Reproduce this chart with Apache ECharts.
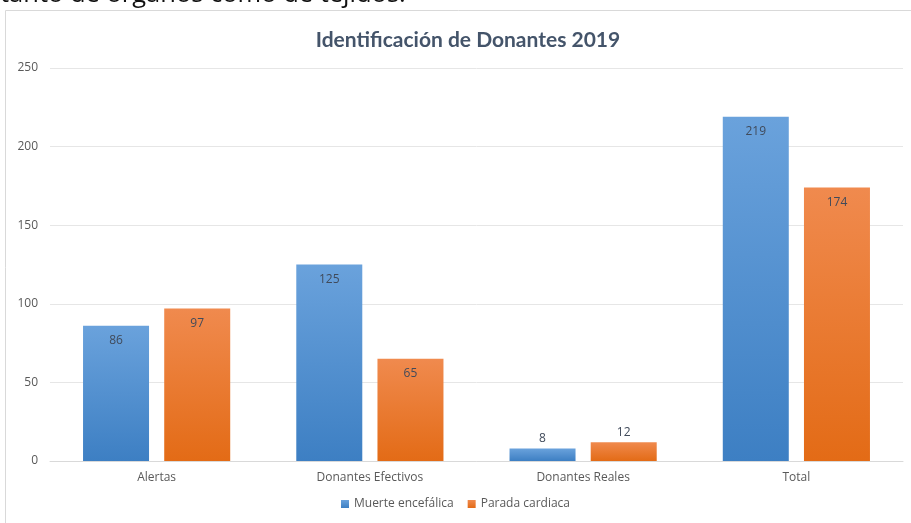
<!DOCTYPE html>
<html>
<head>
<meta charset="utf-8">
<script src="https://cdn.jsdelivr.net/npm/echarts@6/dist/echarts.min.js"></script>
<style>
  html, body { margin: 0; padding: 0; background: #fff; }
  #chart { width: 911px; height: 523px; }
</style>
</head>
<body>
<div id="chart"></div>
<script>
const categories = ['Alertas', 'Donantes Efectivos', 'Donantes Reales', 'Total'];
const muerteEncefalica = [86, 125, 8, 219];
const paradaCardiaca = [97, 65, 12, 174];
const yTicks = { min: 0, max: 250, interval: 50 };

const chart = echarts.init(document.getElementById('chart'));

function grad(top, bottom) {
  return new echarts.graphic.LinearGradient(0, 0, 0, 1, [
    { offset: 0, color: top },
    { offset: 1, color: bottom }
  ]);
}

const labelStyle = {
  show: true,
  position: 'insideTop',
  distance: 9,
  color: '#404a5a',
  fontSize: 12,
  fontFamily: 'Open Sans'
};

// short bars get their label above the bar, as in the original
function withLabels(values) {
  return values.map(v => v < 20
    ? { value: v, label: { position: 'top', distance: 4 } }
    : v);
}

chart.setOption({
  animation: false,
  graphic: [
    {
      // leftover line of page text, mostly cut off at the top edge
      type: 'text',
      x: 0,
      y: -5,
      style: {
        text: 'tanto de órganos como de tejidos.',
        fontSize: 25.5,
        fontFamily: 'Open Sans',
        fill: '#111',
        verticalAlign: 'middle'
      }
    },
    {
      type: 'rect',
      shape: { x: 5.5, y: 10.5, width: 1000, height: 600 },
      style: { fill: 'none', stroke: '#d9d9d9', lineWidth: 1 }
    }
  ],
  title: {
    text: 'Identificación de Donantes 2019',
    left: 463,
    top: 25,
    textAlign: 'center',
    textStyle: { color: '#44546a', fontSize: 21, fontWeight: 'bold', fontFamily: 'Lato' }
  },
  legend: {
    bottom: 8,
    left: 'center',
    itemWidth: 8,
    itemHeight: 8,
    itemGap: 14,
    icon: 'rect',
    textStyle: { color: '#595959', fontSize: 12, fontFamily: 'Open Sans' },
    data: ['Muerte encefálica', 'Parada cardiaca']
  },
  grid: { left: 50, right: 8, top: 68, bottom: 62 },
  xAxis: {
    type: 'category',
    data: categories,
    axisLine: { lineStyle: { color: '#d9d9d9' } },
    axisTick: { show: false },
    axisLabel: { color: '#595959', fontSize: 12, fontFamily: 'Open Sans', margin: 11 }
  },
  yAxis: {
    type: 'value',
    min: yTicks.min,
    max: yTicks.max,
    interval: yTicks.interval,
    axisLine: { show: false },
    axisTick: { show: false },
    axisLabel: { color: '#595959', fontSize: 12, fontFamily: 'Open Sans', margin: 12 },
    splitLine: { lineStyle: { color: '#e6e6e6' } }
  },
  series: [
    {
      name: 'Muerte encefálica',
      type: 'bar',
      data: withLabels(muerteEncefalica),
      barWidth: 66,
      barGap: '23%',
      itemStyle: { color: grad('#6aa2dc', '#3d7fc3') },
      label: labelStyle
    },
    {
      name: 'Parada cardiaca',
      type: 'bar',
      data: withLabels(paradaCardiaca),
      barWidth: 66,
      itemStyle: { color: grad('#f08a4e', '#e36b16') },
      label: labelStyle
    }
  ]
});
</script>
</body>
</html>
